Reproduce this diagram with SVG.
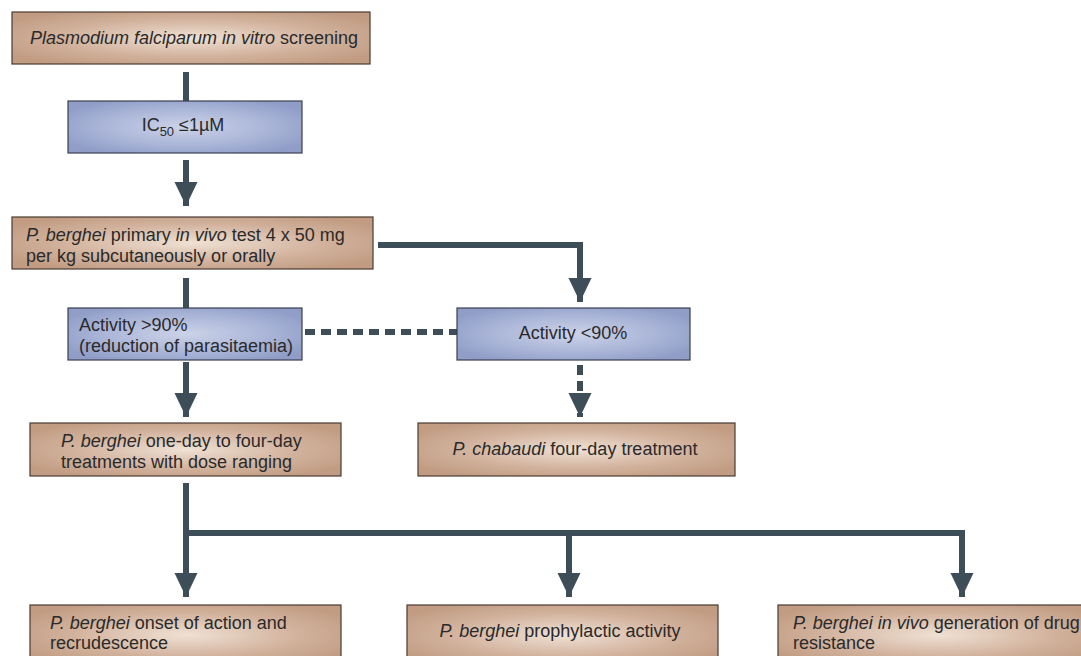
<svg xmlns="http://www.w3.org/2000/svg" width="1081" height="656" viewBox="0 0 1081 656">
<defs>
<radialGradient id="gb" cx="0.5" cy="0.5" r="0.6">
<stop offset="0" stop-color="#efe1d4"/>
<stop offset="0.6" stop-color="#d2b29d"/>
<stop offset="1" stop-color="#c19c82"/>
</radialGradient>
<radialGradient id="gl" cx="0.5" cy="0.5" r="0.6">
<stop offset="0" stop-color="#ccd3e8"/>
<stop offset="0.6" stop-color="#a9b4d7"/>
<stop offset="1" stop-color="#8f9dc7"/>
</radialGradient>
<marker id="ah" markerUnits="userSpaceOnUse" markerWidth="26" markerHeight="26" viewBox="0 0 26 26" refX="24" refY="13" orient="auto">
<path d="M0,1.5 L24,13 L0,24.5 Z" fill="#3d4e59"/>
</marker>
</defs>
<style>
.b{fill:url(#gb);stroke:#4a3b33;stroke-width:1.2}
.l{fill:url(#gl);stroke:#3b3f4f;stroke-width:1.2}
text{font-family:"Liberation Sans",Arial,sans-serif;font-size:18px;fill:#2a2a2a}
.c{text-anchor:middle}
.i{font-style:italic}
.k{fill:none;stroke:#3d4e59;stroke-width:6}
.d{stroke-dasharray:10 6}
</style>
<rect width="1081" height="656" fill="#ffffff"/>
<g id="connectors">
<path class="k" d="M186,72 V101"/>
<path class="k" d="M186,160 V206" marker-end="url(#ah)"/>
<path class="k" d="M378,245 H580 V302" marker-end="url(#ah)"/>
<path class="k" d="M186,278 V308"/>
<path class="k d" d="M305,332 H457"/>
<path class="k d" d="M580,365 V417" marker-end="url(#ah)"/>
<path class="k" d="M186,362 V417" marker-end="url(#ah)"/>
<path class="k" d="M186,483 V597" marker-end="url(#ah)"/>
<path class="k" d="M186,533 H962 V597" marker-end="url(#ah)"/>
<path class="k" d="M569,533 V597" marker-end="url(#ah)"/>
</g>
<g id="n1"><rect class="b" x="12" y="12" width="358" height="52"/>
<text x="194" y="44" class="c"><tspan class="i">Plasmodium falciparum in vitro</tspan> screening</text></g>
<g id="n2"><rect class="l" x="68" y="101" width="234" height="52"/>
<text x="183" y="131" class="c" font-size="19">IC<tspan font-size="13" dy="5">50</tspan><tspan dy="-5"> ≤1µM</tspan></text></g>
<g id="n3"><rect class="b" x="12" y="217" width="361" height="52"/>
<text x="26" y="241"><tspan class="i">P. berghei</tspan> primary <tspan class="i">in vivo</tspan> test 4 x 50 mg</text>
<text x="26" y="262">per kg subcutaneously or orally</text></g>
<g id="n4"><rect class="l" x="68" y="308" width="234" height="52"/>
<text x="79" y="331">Activity &gt;90%</text>
<text x="79" y="352">(reduction of parasitaemia)</text></g>
<g id="n5"><rect class="l" x="457" y="308" width="233" height="52"/>
<text x="573" y="339" class="c">Activity &lt;90%</text></g>
<g id="n6"><rect class="b" x="418" y="423" width="317" height="53"/>
<text x="575" y="455" class="c"><tspan class="i">P. chabaudi</tspan> four-day treatment</text></g>
<g id="n7"><rect class="b" x="30" y="423" width="311" height="53"/>
<text x="61" y="447"><tspan class="i">P. berghei</tspan> one-day to four-day</text>
<text x="61" y="468">treatments with dose ranging</text></g>
<g id="n8"><rect class="b" x="30" y="605" width="311" height="60"/>
<text x="50" y="629"><tspan class="i">P. berghei</tspan> onset of action and</text>
<text x="50" y="649">recrudescence</text></g>
<g id="n9"><rect class="b" x="407" y="605" width="311" height="60"/>
<text x="560" y="637" class="c"><tspan class="i">P. berghei</tspan> prophylactic activity</text></g>
<g id="n10"><rect class="b" x="778" y="605" width="320" height="60"/>
<text x="793" y="629"><tspan class="i">P. berghei in vivo</tspan> generation of drug</text>
<text x="793" y="649">resistance</text></g>
</svg>
